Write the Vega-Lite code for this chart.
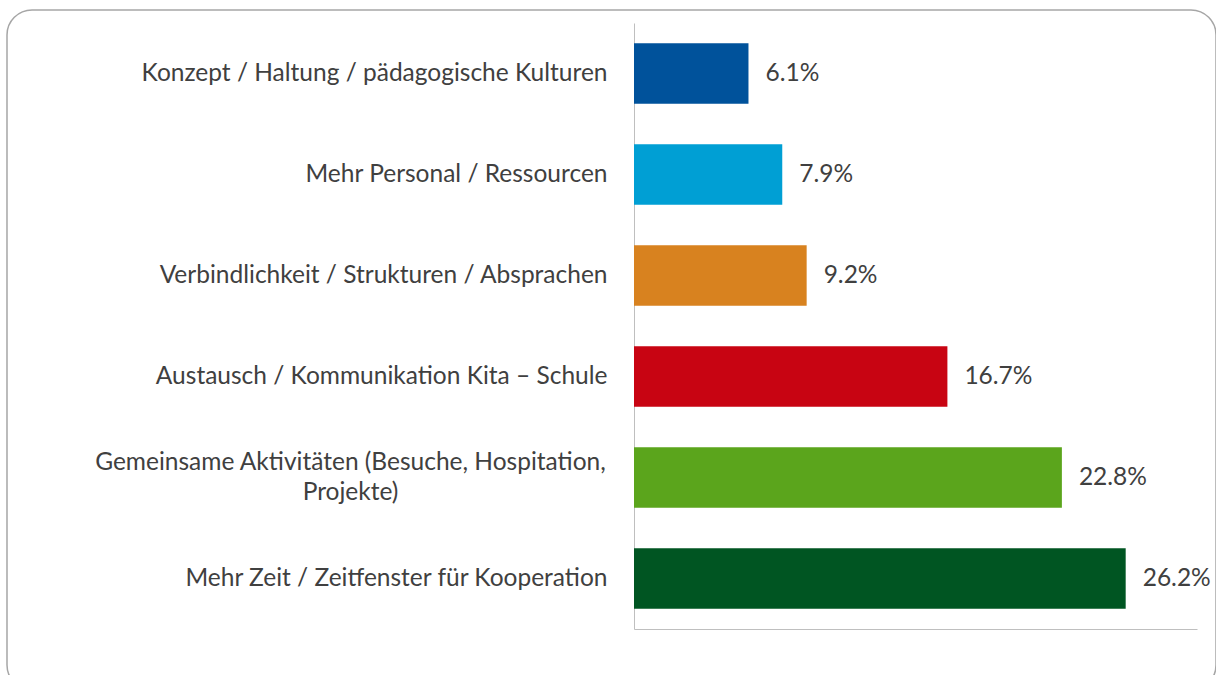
{
  "$schema": "https://vega.github.io/schema/vega-lite/v6.json",
  "width": 1209,
  "height": 680,
  "autosize": "none",
  "padding": {"left": 7, "top": 10, "right": 0, "bottom": 0},
  "background": "white",
  "config": {
    "view": {"stroke": "#a6a6a6", "strokeWidth": 1.5, "cornerRadius": 25},
    "font": "Lato"
  },
  "data": {
    "values": [
      {"kategorie": "Konzept / Haltung / pädagogische Kulturen", "anteil": 0.061},
      {"kategorie": "Mehr Personal / Ressourcen", "anteil": 0.079},
      {"kategorie": "Verbindlichkeit / Strukturen / Absprachen", "anteil": 0.092},
      {"kategorie": "Austausch / Kommunikation Kita – Schule", "anteil": 0.167},
      {"kategorie": "Gemeinsame Aktivitäten (Besuche, Hospitation, Projekte)", "anteil": 0.228},
      {"kategorie": "Mehr Zeit / Zeitfenster für Kooperation", "anteil": 0.262}
    ]
  },
  "encoding": {
    "y": {
      "field": "kategorie",
      "type": "nominal",
      "sort": null,
      "scale": {"range": [13, 619], "paddingInner": 0.4, "paddingOuter": 0.2},
      "axis": {
        "orient": "left",
        "offset": -627,
        "title": null,
        "ticks": false,
        "tickSize": 0,
        "grid": false,
        "domainColor": "#bfbfbf",
        "domainWidth": 1,
        "labelPadding": {"condition": {"test": "datum.value == 'Gemeinsame Aktivitäten (Besuche, Hospitation, Projekte)'", "value": 284}, "value": 27},
        "labelAlign": {"condition": {"test": "datum.value == 'Gemeinsame Aktivitäten (Besuche, Hospitation, Projekte)'", "value": "center"}, "value": "right"},
        "labelOffset": {"condition": {"test": "datum.value == 'Gemeinsame Aktivitäten (Besuche, Hospitation, Projekte)'", "value": -15}, "value": 0},
        "labelFont": "Lato",
        "labelFontSize": 24.5,
        "labelColor": "#404040",
        "labelLimit": 800,
        "labelLineHeight": 30,
        "labelExpr": "datum.value == 'Gemeinsame Aktivitäten (Besuche, Hospitation, Projekte)' ? ['Gemeinsame Aktivitäten (Besuche, Hospitation,', 'Projekte)'] : datum.value"
      }
    },
    "x": {
      "field": "anteil",
      "type": "quantitative",
      "scale": {"domain": [0, 0.3], "range": [627, 1190], "nice": false, "zero": true},
      "axis": {
        "orient": "bottom",
        "offset": -61,
        "title": null,
        "labels": false,
        "ticks": false,
        "grid": false,
        "domainColor": "#bfbfbf",
        "domainWidth": 1
      }
    }
  },
  "layer": [
    {
      "mark": {"type": "bar"},
      "encoding": {
        "color": {
          "field": "kategorie",
          "type": "nominal",
          "sort": null,
          "legend": null,
          "scale": {
            "domain": [
              "Konzept / Haltung / pädagogische Kulturen",
              "Mehr Personal / Ressourcen",
              "Verbindlichkeit / Strukturen / Absprachen",
              "Austausch / Kommunikation Kita – Schule",
              "Gemeinsame Aktivitäten (Besuche, Hospitation, Projekte)",
              "Mehr Zeit / Zeitfenster für Kooperation"
            ],
            "range": ["#00529b", "#009fd4", "#d8821f", "#c80412", "#5ba51c", "#005522"]
          }
        }
      }
    },
    {
      "mark": {"type": "text", "align": "left", "baseline": "middle", "dx": 17, "fontSize": 24.5, "font": "Lato", "color": "#404040"},
      "encoding": {
        "text": {"field": "anteil", "type": "quantitative", "format": ".1%"}
      }
    }
  ]
}
